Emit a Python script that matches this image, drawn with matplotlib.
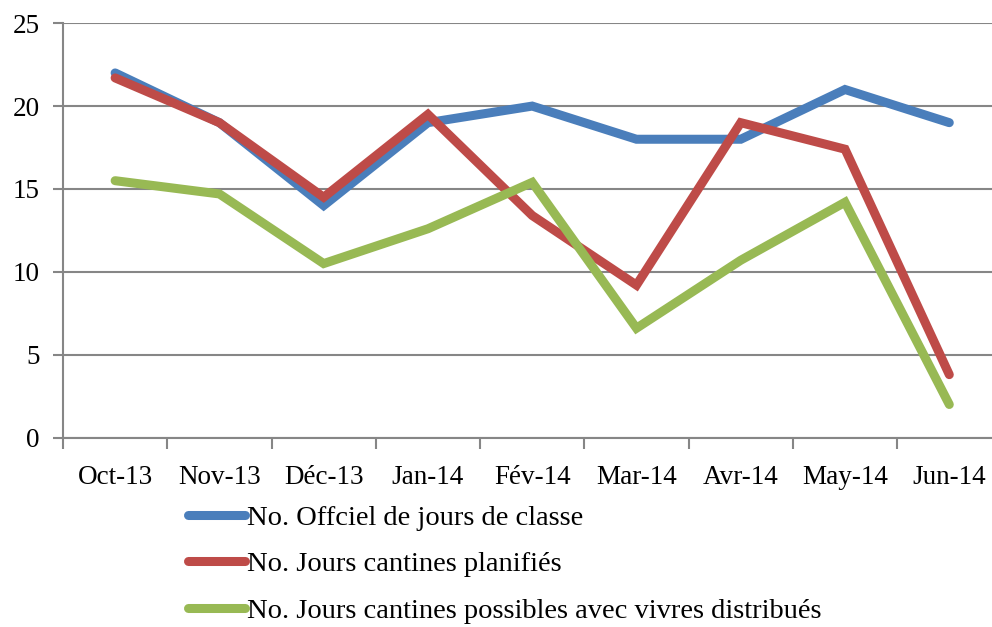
import numpy as np
import matplotlib.pyplot as plt

months = ["Oct-13", "Nov-13", "Déc-13", "Jan-14", "Fév-14", "Mar-14", "Avr-14", "May-14", "Jun-14"]
jours_classe = [22, 19, 14, 19, 20, 18, 18, 21, 19]
jours_planifies = [21.7, 19, 14.5, 19.5, 13.4, 9.2, 19, 17.4, 3.8]
jours_possibles = [15.5, 14.7, 10.5, 12.6, 15.4, 6.6, 10.7, 14.2, 2.0]

labels = ["No. Offciel de jours de classe",
          "No. Jours cantines planifiés",
          "No. Jours cantines possibles avec vivres distribués"]
colors = ["#4A7EBB", "#BE4B48", "#98B954"]

plt.rcParams['font.family'] = ['Liberation Serif', 'DejaVu Serif']
grey = "#868686"

fig = plt.figure(figsize=(9.92, 6.27), dpi=100)
ax = fig.add_axes([0.0635, 0.302, 0.946, 0.661])

x = np.arange(len(months))
for series, c, lab in zip([jours_classe, jours_planifies, jours_possibles], colors, labels):
    ax.plot(x, series, color=c, lw=6.5, solid_capstyle='round', solid_joinstyle='miter', label=lab)

ax.set_xlim(-0.5, len(months) - 0.5)
ax.set_ylim(0, 25)
ax.set_yticks(range(0, 26, 5))
ax.yaxis.grid(True, color=grey, lw=1.5)
ax.set_axisbelow(True)

# category labels centred, tick marks between categories
ax.set_xticks(np.arange(-0.5, len(months), 1))
ax.set_xticklabels([])
ax.set_xticks(x, minor=True)
ax.set_xticklabels(months, minor=True, fontsize=19.5)
ax.tick_params(axis='x', which='minor', length=0, pad=20)
ax.tick_params(axis='x', which='major', length=8, width=1.5, color=grey, direction='out')
ax.tick_params(axis='y', length=7, width=1.5, color=grey, labelsize=19.5, pad=10)

for s in ['top', 'right']:
    ax.spines[s].set_visible(False)
for s in ['left', 'bottom']:
    ax.spines[s].set_color(grey)
    ax.spines[s].set_linewidth(1.5)

fig.legend(loc='upper left', bbox_to_anchor=(0.19, 0.195), frameon=False,
           fontsize=20.5, handlelength=2.0, handletextpad=0.05, labelspacing=0.72,
           borderaxespad=0, borderpad=0)

fig.savefig("out.png", dpi=100)
